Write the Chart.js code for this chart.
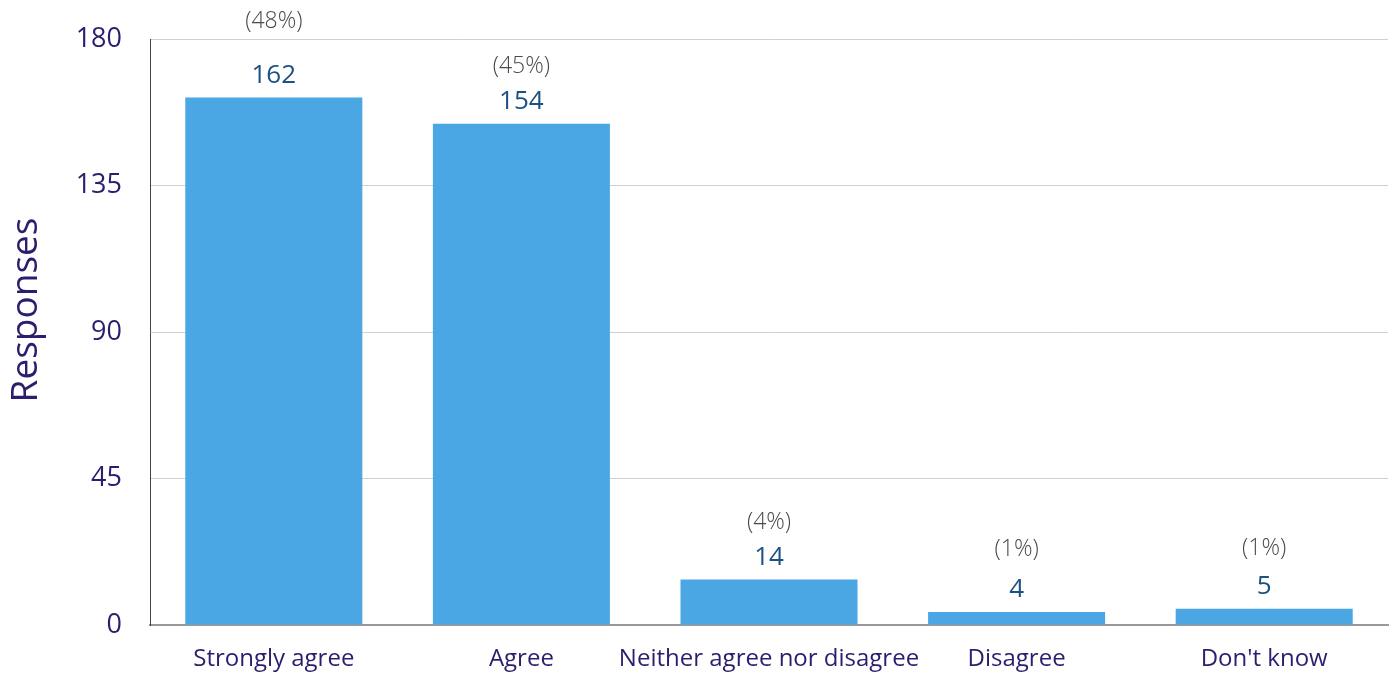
<!DOCTYPE html>
<html>
<head>
<meta charset="utf-8">
<script src="https://cdn.jsdelivr.net/npm/chart.js@4"></script>
<style>
  html, body { margin: 0; padding: 0; background: #fff; }
  #wrap { width: 1397px; height: 673px; position: relative; }
</style>
</head>
<body>
<div id="wrap"><canvas id="chart"></canvas></div>
<script>
// categories and values
const categories = ['Strongly agree', 'Agree', 'Neither agree nor disagree', 'Disagree', "Don't know"];
const responses = [162, 154, 14, 4, 5];
const percents = ['(48%)', '(45%)', '(4%)', '(1%)', '(1%)'];
const yTicks = [0, 45, 90, 135, 180];

// how far the percentage sits above each bar top (px), as in the original
const pctLift = [76, 57, 57, 63, 60];

const fontFamily = "'Open Sans', 'Noto Sans', sans-serif";
const navy = '#2a1f6e';

// draws the count and the percentage above each bar, plus the y title
const barLabels = {
  id: 'barLabels',
  afterDatasetsDraw(chart) {
    const ctx = chart.ctx;
    const meta = chart.getDatasetMeta(0);
    const area = chart.chartArea;
    ctx.save();
    ctx.textAlign = 'center';
    ctx.textBaseline = 'middle';
    meta.data.forEach((bar, i) => {
      ctx.fillStyle = '#1b5183';
      ctx.font = '500 26px ' + fontFamily;
      ctx.fillText(responses[i], bar.x, bar.y - 22);
      ctx.fillStyle = '#4a4a4a';
      ctx.font = '300 23px ' + fontFamily;
      ctx.fillText(percents[i], bar.x, bar.y - pctLift[i]);
    });
    // axis title, sits a little above the middle like the original
    ctx.translate(26, (area.top + area.bottom) / 2 - 22);
    ctx.rotate(-Math.PI / 2);
    ctx.fillStyle = navy;
    ctx.font = '37px ' + fontFamily;
    ctx.fillText('Responses', 0, 0);
    ctx.restore();
  }
};

const ctx = document.getElementById('chart').getContext('2d');
new Chart(ctx, {
  type: 'bar',
  data: {
    labels: categories,
    datasets: [{
      data: responses,
      backgroundColor: '#4ba7e3',
      barPercentage: 0.715,
      categoryPercentage: 1
    }]
  },
  options: {
    responsive: true,
    maintainAspectRatio: false,
    animation: false,
    layout: { padding: { top: 39, right: 9, left: 0, bottom: 0 } },
    plugins: {
      legend: { display: false },
      tooltip: { enabled: false }
    },
    scales: {
      x: {
        grid: { display: false },
        border: { display: true, color: '#999', width: 2 },
        ticks: {
          color: navy,
          font: { family: fontFamily, size: 24 },
          padding: 12,
          maxRotation: 0,
          autoSkip: false
        },
        afterFit(scale) { scale.height = 48; }
      },
      y: {
        min: 0,
        max: 180,
        afterBuildTicks(scale) { scale.ticks = yTicks.map(v => ({ value: v })); },
        grid: { color: '#d0d0d0', drawTicks: false },
        border: { display: true, color: '#444', width: 1 },
        ticks: {
          color: navy,
          font: { family: fontFamily, size: 27, lineHeight: 0.8 },
          padding: 28
        },
        afterFit(scale) { scale.width = 150; }
      }
    }
  },
  plugins: [barLabels]
});
</script>
</body>
</html>
